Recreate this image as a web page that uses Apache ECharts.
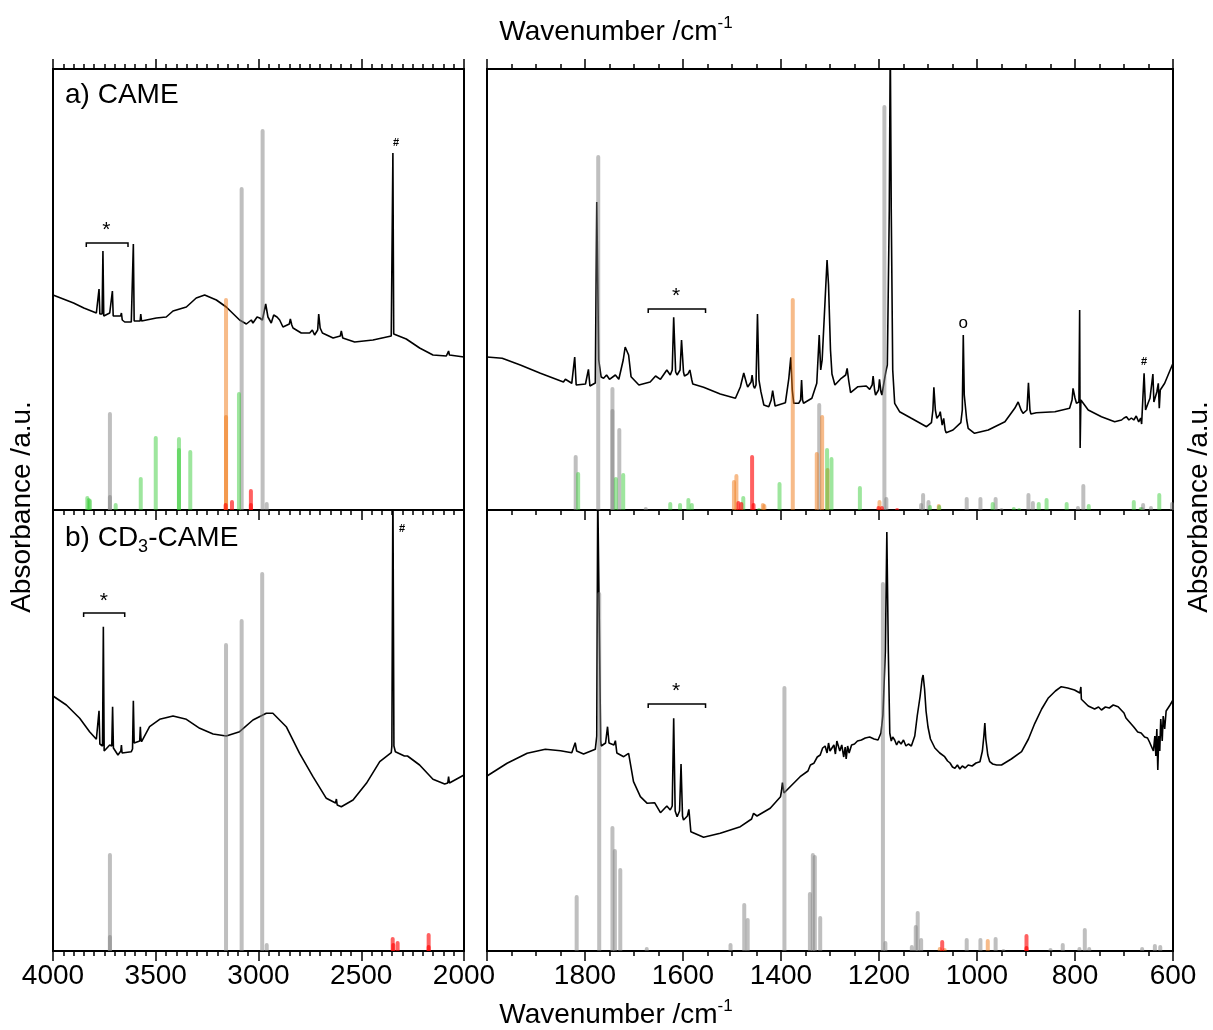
<!DOCTYPE html>
<html>
<head>
<meta charset="utf-8">
<script src="https://cdn.jsdelivr.net/npm/echarts@6/dist/echarts.min.js"></script>
<style>
html,body{margin:0;padding:0;background:#fff;}
#main{width:1213px;height:1030px;}
</style>
</head>
<body>
<div id="main"></div>
<script>
// IR spectra, a.u. (wavenumber /cm-1, absorbance)
var specA_high = [[4000,215],[3900,207],[3850,202],[3789,197],[3780,198],[3776,221],[3772,196],[3761,196],[3757,259],[3753,194],[3724,197],[3715,198],[3711,219],[3707,194],[3700,193],[3671,194],[3667,197],[3663,190],[3651,188],[3619,188],[3613,189],[3609,266],[3605,189],[3599,188],[3576,189],[3573,196],[3569,189],[3562,190],[3497,192],[3449,193],[3416,199],[3351,203],[3303,212],[3262,215],[3205,210],[3157,203],[3092,190],[3059,186],[3035,190],[3027,187],[3007,193],[2994,192],[2981,190],[2965,206],[2954,193],[2938,187],[2926,195],[2910,193],[2897,190],[2881,183],[2850,186],[2845,191],[2838,185],[2832,182],[2792,177],[2751,177],[2738,180],[2727,175],[2712,180],[2707,196],[2700,182],[2689,177],[2637,172],[2602,174],[2597,179],[2590,172],[2581,170],[2532,168],[2443,170],[2354,174],[2350,176],[2346,357],[2342,176],[2334,174],[2281,171],[2216,162],[2151,155],[2086,154],[2078,155],[2075,159],[2071,155],[2067,154],[2000,153]];
var specA_low = [[2000,153],[1969,151.7],[1932,145],[1891,136.7],[1844,128],[1840,130.7],[1827,126.7],[1824,127],[1821,153],[1818,125],[1799,126],[1795,127],[1793,140.7],[1790,124],[1786,123],[1779,127],[1776,308],[1772,150],[1767,133],[1762,131.7],[1756,135],[1750,130.7],[1738,135],[1731,130.7],[1722,150],[1718,163],[1711,155],[1706,133.3],[1690,125],[1667,128],[1656,134],[1646,130.7],[1633,140],[1626,135],[1622,140],[1619,192.7],[1615,138],[1612,135],[1606,140],[1603,170],[1599,138],[1597,134],[1590,136],[1586,140],[1582,130],[1580,126],[1558,122.7],[1524,116],[1493,111.7],[1483,123],[1476,137],[1470,126],[1468,123],[1461,128],[1459,135],[1456,124],[1454,121.7],[1451,125],[1448,196],[1445,130],[1441,118.3],[1435,105],[1425,103.3],[1420,110],[1417,119.3],[1414,110],[1412,104],[1391,107.3],[1384,131.7],[1380,152.7],[1377,120],[1374,106.7],[1364,106.7],[1360,110],[1358,130],[1356,110],[1354,106.7],[1337,111.7],[1327,126.7],[1322,175],[1319,140],[1316,150],[1310,210],[1306,250],[1303,225],[1299,160],[1296,136],[1290,125],[1277,131.7],[1268,135],[1265,141.7],[1262,130],[1258,117.3],[1243,123.3],[1226,124],[1219,120.7],[1214,125],[1212,134],[1209,120],[1207,115],[1201,120],[1199,130.7],[1196,118],[1194,115],[1189,130],[1186,138.3],[1183,145],[1179,300],[1177,470],[1175,300],[1172,140],[1168,106.7],[1158,98.3],[1134,91.7],[1103,83.3],[1093,87.3],[1090,100],[1088,122.7],[1085,100],[1082,91.7],[1077,95],[1075,98.3],[1072,88],[1071,85],[1068,91.7],[1065,80],[1063,77.3],[1049,80],[1033,87.3],[1030,100],[1028,175],[1026,115],[1025,110],[1021,90],[1018,81.7],[1005,76.7],[977,80],[943,88.3],[923,101.7],[916,108],[913,110],[910,100],[906,96.7],[898,100],[895,127.3],[892,100],[890,96],[879,97.3],[841,98.3],[811,101.7],[806,110],[804,121.7],[800,112],[797,106.7],[792,108],[790.5,200],[789.5,62],[788,110],[784,108.3],[773,100],[746,93.3],[719,88.3],[705,90],[700,92],[695,93.3],[690,90],[685,92],[680,90],[675,94],[670,88],[666,92],[664,86],[662,106.7],[659,136.7],[656,100],[654,98.3],[650,108],[647,111.7],[643,110],[641,136],[639,108],[637,106.7],[633,118],[630,126.7],[628,101.7],[626,120],[617,126.7],[610,135],[600,146.7]];
var specB_high = [[4000,255],[3935,246],[3870,232.7],[3822,219.3],[3789,211.7],[3780,210],[3776,240.3],[3772,207],[3765,207.7],[3759,205],[3755,324.3],[3751,200],[3745,199.3],[3724,206],[3714,205],[3710,244.3],[3706,203],[3700,201],[3684,196],[3670,200],[3667,206],[3664,198],[3656,197],[3619,199.3],[3613,202],[3609,250.3],[3605,208],[3598,207.7],[3578,210],[3575,224.3],[3572,212],[3569,209.3],[3530,224.3],[3481,231.7],[3416,235],[3351,231.7],[3286,222.7],[3221,217],[3157,215],[3092,219.3],[3027,231],[2962,237.7],[2930,237.7],[2865,224.3],[2800,197.7],[2735,174.3],[2670,152.7],[2625,148],[2621,152],[2617,146],[2597,144.3],[2540,151],[2475,167.7],[2410,189.3],[2354,198.3],[2351,205],[2346,470],[2341,205],[2334,199.3],[2290,195],[2281,197],[2275,195],[2216,186],[2151,171.7],[2094,167],[2079,168],[2075,174.3],[2071,168],[2062,167],[2000,176]];
var specB_low = [[2000,175],[1959,187.7],[1918,197.7],[1881,201.7],[1850,200.3],[1827,198.3],[1823,200],[1820,208.3],[1817,200],[1803,197],[1779,201.7],[1776,215],[1774,460],[1770,460],[1768,210],[1767,205],[1758,208],[1754,224.3],[1751,208],[1748,206],[1741,206],[1738,210.3],[1735,198],[1733,196],[1721,194.3],[1711,197.7],[1701,169.3],[1687,154.3],[1673,147.7],[1658,148.3],[1646,138.3],[1633,145],[1626,141],[1622,145],[1619,232.7],[1616,140],[1612,134.3],[1607,140],[1604,187],[1601,135],[1599,131],[1591,135],[1588,141.7],[1585,125],[1584,119.3],[1558,113.7],[1524,117.7],[1483,124.3],[1460,132],[1456,137.7],[1449,135],[1422,142.7],[1401,154.3],[1399,160],[1397,168.3],[1394,158],[1391,156],[1361,174.3],[1345,180],[1340,186],[1333,187.7],[1326,194],[1320,196],[1315,203],[1310,205],[1306,198],[1303,208],[1300,200],[1296,201],[1292,206],[1289,197],[1286,210],[1284,209],[1280,200],[1276,206],[1272,194],[1269,204],[1267,192],[1264,205],[1261,198],[1256,206],[1250,207],[1244,210],[1236,211],[1228,213],[1219,214],[1210,212],[1202,211],[1196,218],[1192,236],[1187,300],[1184,419],[1181,300],[1178,218],[1175,210],[1172,214],[1168,211],[1164,206],[1160,210],[1155,207],[1150,211],[1145,205],[1140,207],[1134,205],[1127,215],[1122,235],[1116,255],[1112,272],[1110,276],[1107,262],[1104,240],[1100,224],[1095,212],[1086,203],[1076,198],[1066,194.3],[1060,190],[1055,188],[1050,184],[1045,182.7],[1040,186],[1035,182],[1030,185],[1024,183],[1018,186],[1010,185],[1002,188],[994,189.3],[989,200],[986,215],[984,228],[982,212],[978,196],[974,189.3],[968,187],[960,186],[950,186],[930,192],[909,199.3],[895,212],[882,227.7],[868,242],[855,252.7],[840,260],[828,264.3],[815,263],[801,261],[790,258],[788,264],[787,251.7],[773,245],[760,242],[752,244],[746,241],[738,244],[730,243],[722,246],[712,244.3],[700,238],[696,233],[692,231],[680,224],[672,219],[665,218],[658,214],[652,213],[648,209],[644,211],[640,200],[637,215],[635,195],[633,222],[631,181],[629,215],[627,200],[625,232],[622,210],[620,235],[617,222],[614,240],[610,238],[606,246],[600,251]];

// calculated band positions and intensities (wavenumber, intensity)
var sticksA_high_grey = [[3723,98],[3723,15],[3082,323],[2980,381],[2960,8]];
var sticksA_high_orange = [[3158,212],[3158,95]];
var sticksA_high_green = [[3833,14],[3826,12],[3820,11],[3695,7],[3573,33],[3500,74],[3387,73],[3387,62],[3332,60],[3095,118]];
var sticksA_high_red = [[3160,7],[3129,10],[3037,21],[3037,7]];

var sticksA_low_grey = [[1819,55],[1773,355],[1744,123],[1744,101],[1730,82],[1676,3],[1322,107],[1189,405],[1185,13],[1114,7],[1110,17],[1099,10],[1021,13],[993,13],[962,13],[950,2],[895,17],[886,9],[794,4],[783,26],[663,3],[661,7],[645,4],[602,8]];
var sticksA_low_orange = [[1496,30],[1491,36],[1437,7],[1434,6],[1376,212],[1327,58],[1316,95],[1305,42],[1199,10],[1078,6]];
var sticksA_low_green = [[1814,38],[1737,33],[1722,37],[1626,8],[1606,7],[1589,12],[1582,7],[1477,14],[1445,2],[1403,28],[1306,62],[1297,53],[1239,24],[1096,5],[1077,5],[968,8],[925,3],[914,2],[874,8],[858,12],[817,8],[772,6],[680,10],[666,3],[628,17]];
var sticksA_low_red = [[1487,9],[1481,8],[1459,55],[1456,7],[1201,4],[1194,4],[1163,2]];

var sticksB_high_grey = [[3723,98],[3723,16],[3158,308],[3082,332],[2982,379],[2960,8]];
var sticksB_high_red = [[2347,14],[2344,8],[2323,10],[2172,18],[2172,6]];

var sticksB_low_grey = [[1817,56],[1771,359],[1744,125],[1739,102],[1728,83],[1674,4],[1503,8],[1475,48],[1468,33],[1393,265],[1341,59],[1335,98],[1331,96],[1320,35],[1192,369],[1187,10],[1133,6],[1125,26],[1121,40],[1114,13],[1021,13],[993,13],[962,14],[946,2],[850,3],[825,8],[791,4],[780,23],[771,4],[663,4],[637,7],[626,6]];
var sticksB_low_orange = [[1076,4],[1066,3],[978,12]];
var sticksB_low_red = [[1071,11],[899,17],[899,5]];

// annotations: brackets [from, to, height], symbols [x, y]
var bracketsA_high = [[3838,3635,267]];
var bracketsA_low = [[1671,1554,201]];
var bracketsB_high = [[3851,3651,338]];
var bracketsB_low = [[1671,1554,247]];
var starsA_high = [[3740,280]];
var starsA_low = [[1614,214]];
var starsB_high = [[3753,350]];
var starsB_low = [[1614,260]];
var hashA_high = [[2331,367]];
var hashA_low = [[659,148]];
var hashB_high = [[2302,422]];
var ringA_low = [[1028,187]];

var FONT = '"Liberation Sans", Arial, sans-serif';
var GREY = 'rgba(128,128,128,0.5)';
var ORANGE = 'rgba(240,120,20,0.5)';
var GREEN = 'rgba(40,200,40,0.45)';
var RED = 'rgba(255,0,0,0.62)';

var chart = echarts.init(document.getElementById('main'));

function xAx(grid, min, max, interval, split, pos, labels) {
    return {
        type: 'value', gridIndex: grid, min: min, max: max, interval: interval, inverse: true,
        position: pos,
        axisLine: {show: false},
        splitLine: {show: false},
        axisTick: {show: true, inside: false, length: 10, lineStyle: {color: '#000', width: 1.5}},
        minorTick: {show: true, splitNumber: split, length: 5, lineStyle: {color: '#000', width: 1.5}},
        axisLabel: {show: labels, color: '#000', fontSize: 28, fontFamily: FONT, margin: 11,
            showMaxLabel: !(labels && min === 600),
            formatter: function (v) { return String(v); }}
    };
}
function yAx(grid) {
    return {type: 'value', gridIndex: grid, min: 0, max: 441, show: false};
}

function spec(data, xi, yi) {
    return {type: 'line', xAxisIndex: xi, yAxisIndex: yi, data: data, symbol: 'none',
        lineStyle: {color: '#000', width: 1.6}, z: 2, silent: true};
}
function sticks(data, color, xi, yi) {
    return {
        type: 'custom', xAxisIndex: xi, yAxisIndex: yi, data: data, z: 3, silent: true,
        renderItem: function (params, api) {
            var top = api.coord([api.value(0), api.value(1)]);
            var base = api.coord([api.value(0), 0]);
            return {type: 'rect',
                shape: {x: top[0] - 2, y: top[1], width: 4, height: base[1] - top[1], r: [2, 2, 0, 0]},
                style: {fill: color}};
        }
    };
}
function brackets(data, xi, yi) {
    return {
        type: 'custom', xAxisIndex: xi, yAxisIndex: yi, data: data, z: 4, silent: true,
        renderItem: function (params, api) {
            var a = api.coord([api.value(0), api.value(2)]);
            var b = api.coord([api.value(1), api.value(2)]);
            return {type: 'polyline',
                shape: {points: [[a[0], a[1] + 4], [a[0], a[1]], [b[0], b[1]], [b[0], b[1] + 4]]},
                style: {stroke: '#000', lineWidth: 1.5, fill: null}};
        }
    };
}
function marks(data, txt, font, xi, yi) {
    return {
        type: 'custom', xAxisIndex: xi, yAxisIndex: yi, data: data, z: 4, silent: true,
        renderItem: function (params, api) {
            var p = api.coord([api.value(0), api.value(1)]);
            return {type: 'text', x: p[0], y: p[1],
                style: {text: txt, font: font, fill: '#000', align: 'center', verticalAlign: 'middle'}};
        }
    };
}

var titleRich = {
    m: {fontSize: 28, fontFamily: FONT, lineHeight: 34},
    s: {fontSize: 17, fontFamily: FONT, lineHeight: 17, verticalAlign: 'top'}
};

var option = {
    animation: false,
    backgroundColor: '#fff',
    grid: [
        {left: 53, top: 69, width: 411, height: 441, show: true, borderColor: '#000', borderWidth: 2, backgroundColor: 'transparent'},
        {left: 487, top: 69, width: 686, height: 441, show: true, borderColor: '#000', borderWidth: 2, backgroundColor: 'transparent'},
        {left: 53, top: 510, width: 411, height: 441, show: true, borderColor: '#000', borderWidth: 2, backgroundColor: 'transparent'},
        {left: 487, top: 510, width: 686, height: 441, show: true, borderColor: '#000', borderWidth: 2, backgroundColor: 'transparent'}
    ],
    xAxis: [
        xAx(0, 2000, 4000, 500, 10, 'bottom', false),
        xAx(0, 2000, 4000, 500, 10, 'top', false),
        xAx(1, 600, 2000, 200, 4, 'bottom', false),
        xAx(1, 600, 2000, 200, 4, 'top', false),
        xAx(2, 2000, 4000, 500, 10, 'bottom', true),
        xAx(3, 600, 2000, 200, 4, 'bottom', true)
    ],
    yAxis: [yAx(0), yAx(1), yAx(2), yAx(3)],
    graphic: [
        {type: 'text', x: 616, y: 32, style: {
            text: '{m|Wavenumber /cm}{s|-1}', align: 'center', verticalAlign: 'middle', fill: '#000', rich: titleRich}},
        {type: 'text', x: 616, y: 1015, style: {
            text: '{m|Wavenumber /cm}{s|-1}', align: 'center', verticalAlign: 'middle', fill: '#000', rich: titleRich}},
        {type: 'text', x: 22, y: 507, rotation: Math.PI / 2, style: {
            text: 'Absorbance /a.u.', font: '28px ' + FONT, fill: '#000', align: 'center', verticalAlign: 'middle'}},
        {type: 'text', x: 1199, y: 507, rotation: Math.PI / 2, style: {
            text: 'Absorbance /a.u.', font: '28px ' + FONT, fill: '#000', align: 'center', verticalAlign: 'middle'}},
        {type: 'text', x: 65, y: 95, style: {
            text: 'a) CAME', font: '28px ' + FONT, fill: '#000', align: 'left', verticalAlign: 'middle'}},
        {type: 'text', x: 65, y: 538, style: {
            text: '{m|b) CD}{s|3}{m|-CAME}', align: 'left', verticalAlign: 'middle', fill: '#000',
            rich: {m: {fontSize: 28, fontFamily: FONT, lineHeight: 36}, s: {fontSize: 18, fontFamily: FONT, lineHeight: 18, verticalAlign: 'bottom'}}}}
    ],
    series: [
        spec(specA_high, 0, 0),
        spec(specA_low, 2, 1),
        spec(specB_high, 4, 2),
        spec(specB_low, 5, 3),

        sticks(sticksA_high_grey, GREY, 0, 0),
        sticks(sticksA_high_orange, ORANGE, 0, 0),
        sticks(sticksA_high_green, GREEN, 0, 0),
        sticks(sticksA_high_red, RED, 0, 0),
        sticks(sticksA_low_grey, GREY, 2, 1),
        sticks(sticksA_low_orange, ORANGE, 2, 1),
        sticks(sticksA_low_green, GREEN, 2, 1),
        sticks(sticksA_low_red, RED, 2, 1),
        sticks(sticksB_high_grey, GREY, 4, 2),
        sticks(sticksB_high_red, RED, 4, 2),
        sticks(sticksB_low_grey, GREY, 5, 3),
        sticks(sticksB_low_orange, ORANGE, 5, 3),
        sticks(sticksB_low_red, RED, 5, 3),

        brackets(bracketsA_high, 0, 0),
        brackets(bracketsA_low, 2, 1),
        brackets(bracketsB_high, 4, 2),
        brackets(bracketsB_low, 5, 3),
        marks(starsA_high, '*', '21px ' + FONT, 0, 0),
        marks(starsA_low, '*', '21px ' + FONT, 2, 1),
        marks(starsB_high, '*', '21px ' + FONT, 4, 2),
        marks(starsB_low, '*', '21px ' + FONT, 5, 3),
        marks(hashA_high, '#', 'bold 11px ' + FONT, 0, 0),
        marks(hashA_low, '#', 'bold 11px ' + FONT, 2, 1),
        marks(hashB_high, '#', 'bold 11px ' + FONT, 4, 2),
        marks(ringA_low, 'o', '17px ' + FONT, 2, 1)
    ]
};
chart.setOption(option);
</script>
</body>
</html>
